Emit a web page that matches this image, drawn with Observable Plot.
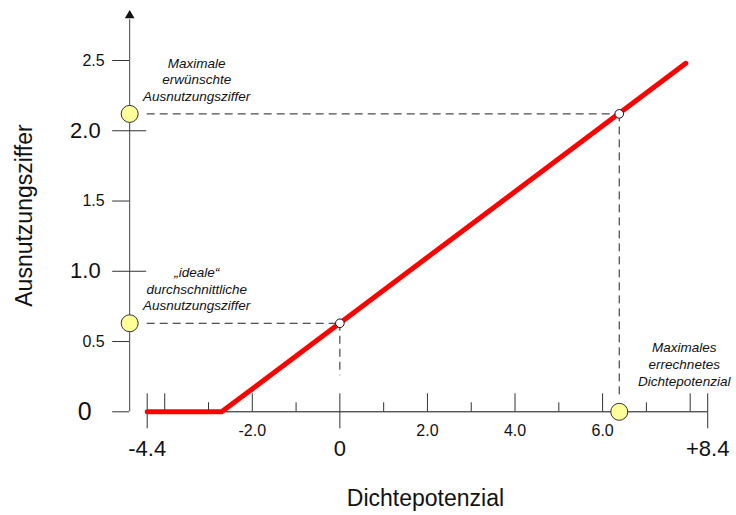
<!DOCTYPE html>
<html><head><meta charset="utf-8">
<script src="https://cdn.jsdelivr.net/npm/d3@7"></script>
<script src="https://cdn.jsdelivr.net/npm/@observablehq/plot@0.6"></script>
<style>body{margin:0;background:#fff;} svg{display:block}</style>
</head><body><div id="chart"></div>
<script>
// ---- data ----
const curveX = [-4.4, -2.7, 7.9];          // Dichtepotenzial along the red curve
const curveY = [0, 0, 2.48];               // Ausnutzungsziffer along the red curve
const refX = [0, 6.38];                    // reference points (ideal, maximum)
const refY = [0.63, 2.12];
const xAxisStart = -4.4, xAxisEnd = 8.4;
const yAxisAt = -4.8;                      // where the vertical axis stands
const yArrowTop = 2.82;
const xTicksLong = [-4, -2, 2, 4, 6, 8];
const xTicksShort = [-3, -1, 1, 3, 5, 7];
const xTicksEnd = [-4.4, 0, 8.4];
const xSmallLabelValues = [-2, 2, 4, 6];
const xSmallLabels = ["-2.0", "2.0", "4.0", "6.0"];
const xBigLabelValues = [-4.4, 0, 8.4];
const xBigLabels = ["-4.4", "0", "+8.4"];
const yTicksLeft = [0, 0.5, 1.5, 2.5];
const yTicksCross = [1, 2];
const ySmallLabelValues = [0.5, 1.5, 2.5];
const ySmallLabels = ["0.5", "1.5", "2.5"];
const yBigLabelValues = [1, 2];
const yBigLabels = ["1.0", "2.0"];
const yZeroLabel = ["0"];
const yNotes = ["„ideale“\ndurchschnittliche\nAusnutzungsziffer", "Maximale\nerwünschte\nAusnutzungsziffer"];
const xNote = "Maximales\nerrechnetes\nDichtepotenzial";
const xTitle = "Dichtepotenzial";
const yTitle = "Ausnutzungsziffer";

const curve = curveX.map((x, i) => ({x, y: curveY[i]}));
const refs = refX.map((x, i) => ({x, y: refY[i], note: yNotes[i]}));
const FONT = "'Liberation Sans', Arial, sans-serif";
const AX = "#333";

const chart = Plot.plot({
  width: 736, height: 515,
  marginLeft: 146.7, marginRight: 28.8, marginTop: 60, marginBottom: 103.7,
  x: {domain: [xAxisStart, xAxisEnd], axis: null},
  y: {domain: [0, 2.5], axis: null},
  style: {fontFamily: FONT, background: "white", overflow: "visible"},
  marks: [
    // vertical axis + arrow
    Plot.ruleX([yAxisAt], {y1: 0, y2: yArrowTop - 0.03, stroke: "#444", strokeWidth: 1}),
    Plot.dot([yAxisAt], {x: d => d, y: yArrowTop, symbol: "triangle", r: 3.6, fill: "#111", stroke: null}),
    // horizontal axis
    Plot.ruleY([0], {x1: xAxisStart, x2: xAxisEnd, stroke: "#111", strokeWidth: 1}),
    // y ticks
    Plot.ruleY(yTicksLeft, {y: d => d, x1: yAxisAt, x2: yAxisAt, insetLeft: -17, stroke: AX}),
    Plot.ruleY(yTicksCross, {y: d => d, x1: yAxisAt, x2: yAxisAt, insetLeft: -17, insetRight: -17, stroke: AX}),
    // x ticks
    Plot.ruleX(xTicksLong, {x: d => d, y1: 0, y2: 0, insetTop: -18, stroke: AX}),
    Plot.ruleX(xTicksShort, {x: d => d, y1: 0, y2: 0, insetTop: -9, stroke: AX}),
    Plot.ruleX(xTicksEnd, {x: d => d, y1: 0, y2: 0, insetTop: -18, insetBottom: -17, stroke: AX}),
    // dashed guides
    Plot.ruleY(refs, {y: "y", x1: xAxisStart, x2: "x", stroke: "#222", strokeDasharray: "8,5"}),
    Plot.ruleX([refs[0]], {x: "x", y1: "y", y2: 0, insetBottom: 36, stroke: "#222", strokeDasharray: "8,5"}),
    Plot.ruleX([refs[1]], {x: "x", y1: "y", y2: 0, insetBottom: 17, stroke: "#222", strokeDasharray: "8,5"}),
    // red curve
    Plot.line(curve, {x: "x", y: "y", stroke: "#ff0000", strokeWidth: 5, strokeLinecap: "round"}),
    // points
    Plot.dot(refs, {x: "x", y: "y", r: 4.3, fill: "white", stroke: "#111", strokeWidth: 1}),
    Plot.dot(refs, {x: yAxisAt, y: "y", r: 8.5, fill: "#ffff99", stroke: "#333", strokeWidth: 1}),
    Plot.dot([refs[1]], {x: "x", y: 0, r: 8.5, fill: "#ffff99", stroke: "#333", strokeWidth: 1}),
    // y labels
    Plot.text(ySmallLabelValues, {x: yAxisAt, y: d => d, text: (d, i) => ySmallLabels[i], textAnchor: "end", dx: -25, fontSize: 16, fill: "#111"}),
    Plot.text(yBigLabelValues, {x: yAxisAt, y: d => d, text: (d, i) => yBigLabels[i], textAnchor: "end", dx: -29, fontSize: 22, fill: "#111"}),
    Plot.text(yZeroLabel, {x: yAxisAt, y: 0, text: d => d, textAnchor: "end", dx: -38, fontSize: 25, fill: "#111"}),
    // x labels
    Plot.text(xSmallLabelValues, {x: d => d, y: 0, text: (d, i) => xSmallLabels[i], lineAnchor: "bottom", dy: 24, fontSize: 16, fill: "#111"}),
    Plot.text(xBigLabelValues, {x: d => d, y: 0, text: (d, i) => xBigLabels[i], lineAnchor: "bottom", dy: 44, fontSize: 22, fill: "#111"}),
    // notes
    Plot.text(refs, {x: yAxisAt, y: "y", text: "note", dx: 67, dy: -35, fontSize: 13.5, fontStyle: "italic", lineHeight: 1.24, fill: "#111"}),
    Plot.text([refs[1]], {x: "x", y: 0, text: () => xNote, dx: 65, dy: -48, fontSize: 13.5, fontStyle: "italic", lineHeight: 1.24, fill: "#111"}),
    // titles
    Plot.text([xTitle], {frameAnchor: "bottom", text: d => d, textAnchor: "middle", lineAnchor: "bottom", dx: -2, dy: 94.5, fontSize: 23, fill: "#111"}),
    Plot.text([yTitle], {frameAnchor: "left", text: d => d, textAnchor: "middle", lineAnchor: "middle", rotate: -90, dx: -122.7, dy: -20.6, fontSize: 23, fill: "#111"})
  ]
});
document.getElementById("chart").appendChild(chart);
</script>
</body></html>
